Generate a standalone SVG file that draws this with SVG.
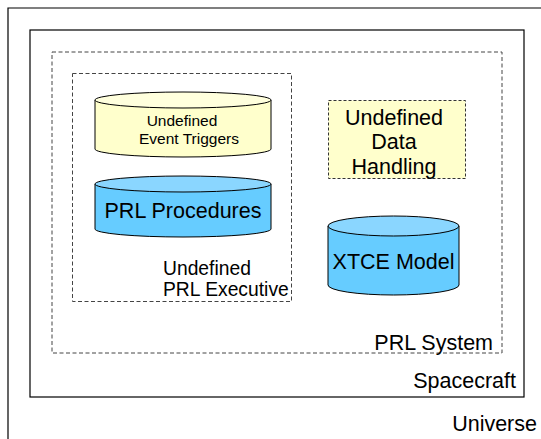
<svg xmlns="http://www.w3.org/2000/svg" width="541" height="439" viewBox="0 0 541 439">
<style>
text{font-family:"Liberation Sans",Arial,sans-serif;fill:#000}
.solid{fill:none;stroke:#000;stroke-width:1.2}
.dash{fill:none;stroke:#444;stroke-width:1;stroke-dasharray:4,2.5}
.ybody{fill:#FFFFCC;stroke:#000;stroke-width:1}
.ytop{fill:#FFFFDD;stroke:#000;stroke-width:1}
.bbody{fill:#66CCFF;stroke:#000;stroke-width:1}
.btop{fill:#8AD6FF;stroke:#000;stroke-width:1}
.ybox{fill:#FFFFCC;stroke:#333;stroke-width:1;stroke-dasharray:3,2}
</style>
<rect width="541" height="439" fill="#fff"/>
<g id="universe">
<path class="solid" d="M8,439 V8 H541"/>
<text x="537" y="431" font-size="21.5" text-anchor="end">Universe</text>
</g>
<g id="spacecraft">
<rect class="solid" x="30" y="30" width="494" height="367"/>
<text x="516" y="388" font-size="21.5" text-anchor="end">Spacecraft</text>
</g>
<g id="prl-system">
<rect class="dash" x="52" y="52" width="450" height="301"/>
<text x="493" y="350" font-size="21.5" text-anchor="end">PRL System</text>
</g>
<g id="prl-executive">
<rect class="dash" x="72.5" y="73.5" width="219" height="228"/>
<text x="163" y="275" font-size="19.3">Undefined</text>
<text x="163" y="296" font-size="19.3">PRL Executive</text>
</g>
<g id="event-triggers">
<path class="ybody" d="M95,100 V149 A88,8 0 0 0 271,149 V100"/>
<ellipse class="ytop" cx="183" cy="100" rx="88" ry="8"/>
<text x="182" y="126" font-size="15.5" text-anchor="middle">Undefined</text>
<text x="189" y="144" font-size="15.5" text-anchor="middle">Event Triggers</text>
</g>
<g id="prl-procedures">
<path class="bbody" d="M95,184 V229 A88,8 0 0 0 271,229 V184"/>
<ellipse class="btop" cx="183" cy="184" rx="88" ry="8"/>
<text x="183" y="218" font-size="21.5" text-anchor="middle">PRL Procedures</text>
</g>
<g id="data-handling">
<rect class="ybox" x="328.5" y="100.5" width="137" height="78"/>
<text x="394" y="125" font-size="21.5" text-anchor="middle">Undefined</text>
<text x="394" y="149" font-size="21.5" text-anchor="middle">Data</text>
<text x="394" y="174" font-size="21.5" text-anchor="middle">Handling</text>
</g>
<g id="xtce-model">
<path class="bbody" d="M328,226 V285 A65.5,10 0 0 0 459,285 V226"/>
<ellipse class="btop" cx="393.5" cy="226" rx="65.5" ry="10"/>
<text x="393.5" y="269" font-size="21.5" text-anchor="middle">XTCE Model</text>
</g>
<g id="connectors"/>
</svg>
